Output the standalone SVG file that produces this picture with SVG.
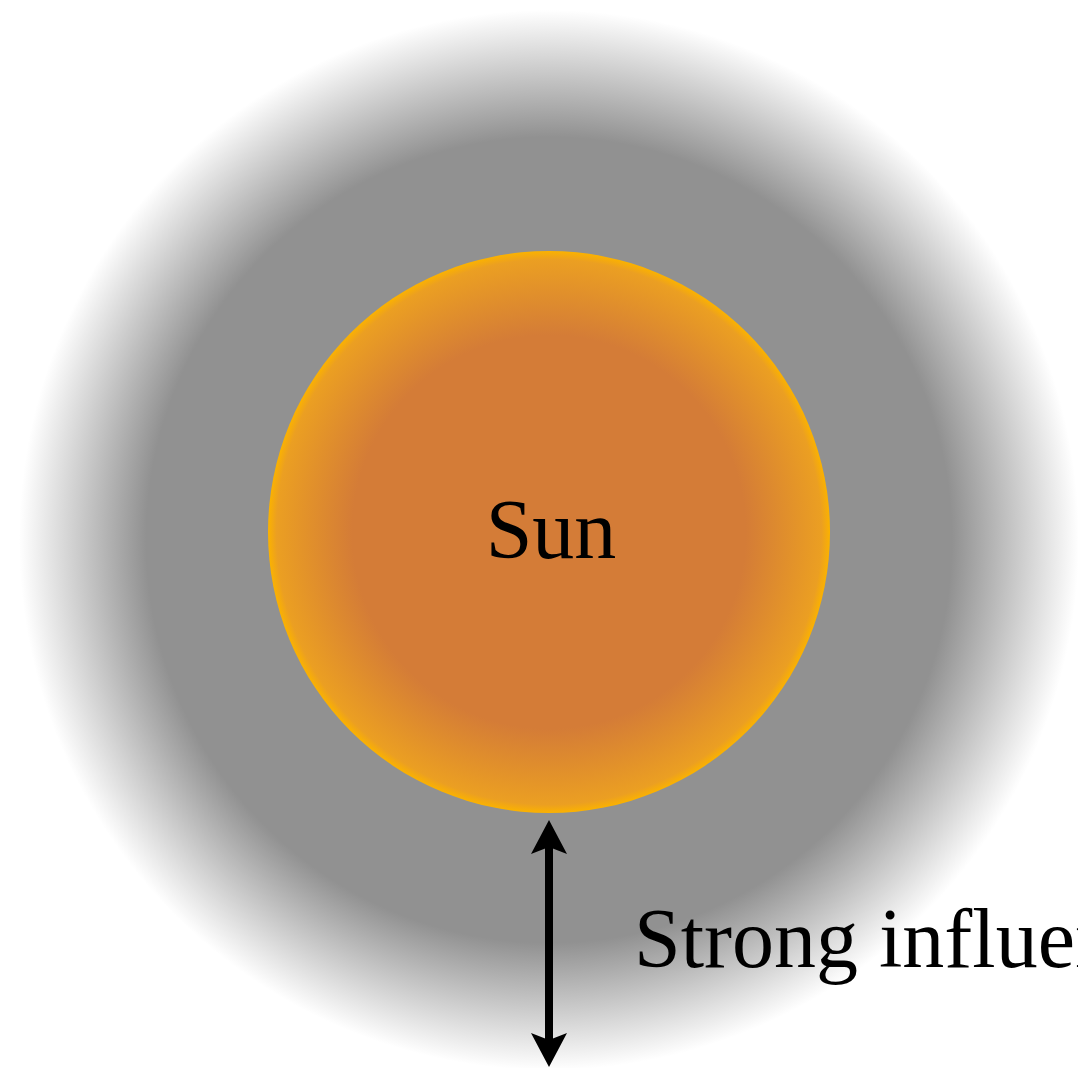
<svg xmlns="http://www.w3.org/2000/svg" width="1078" height="1068" viewBox="0 0 1078 1068">
<defs>
<radialGradient id="halo" cx="0.5" cy="0.5" r="0.5">
<stop offset="0" stop-color="#919191"/>
<stop offset="0.76" stop-color="#919191"/>
<stop offset="1" stop-color="#ffffff"/>
</radialGradient>
<radialGradient id="sun" cx="0.5" cy="0.5" r="0.5">
<stop offset="0" stop-color="#d47c37"/>
<stop offset="0.7" stop-color="#d47c37"/>
<stop offset="0.97" stop-color="#eb9f22"/>
<stop offset="1" stop-color="#fbb200"/>
</radialGradient>
<style>
.lbl{font-family:"Liberation Serif","DejaVu Serif",serif;font-size:84px;fill:#000}
.head{fill:#000}
</style>
</defs>
<rect width="1078" height="1068" fill="#ffffff"/>
<g id="influence">
<circle cx="549" cy="540" r="530" fill="url(#halo)"/>
</g>
<g id="sun-node">
<circle cx="549" cy="532" r="281" fill="url(#sun)"/>
<text class="lbl" x="551" y="558" text-anchor="middle">Sun</text>
</g>
<g id="connectors">
<line x1="549" y1="840" x2="549" y2="1046" stroke="#000" stroke-width="8"/>
<path class="head" d="M549,820 L567,854 L549,847 L531,854 Z"/>
<path class="head" d="M549,1067 L567,1033 L549,1040 L531,1033 Z"/>
</g>
<g id="influence-label">
<text class="lbl" x="634" y="967">Strong influence</text>
</g>
</svg>
